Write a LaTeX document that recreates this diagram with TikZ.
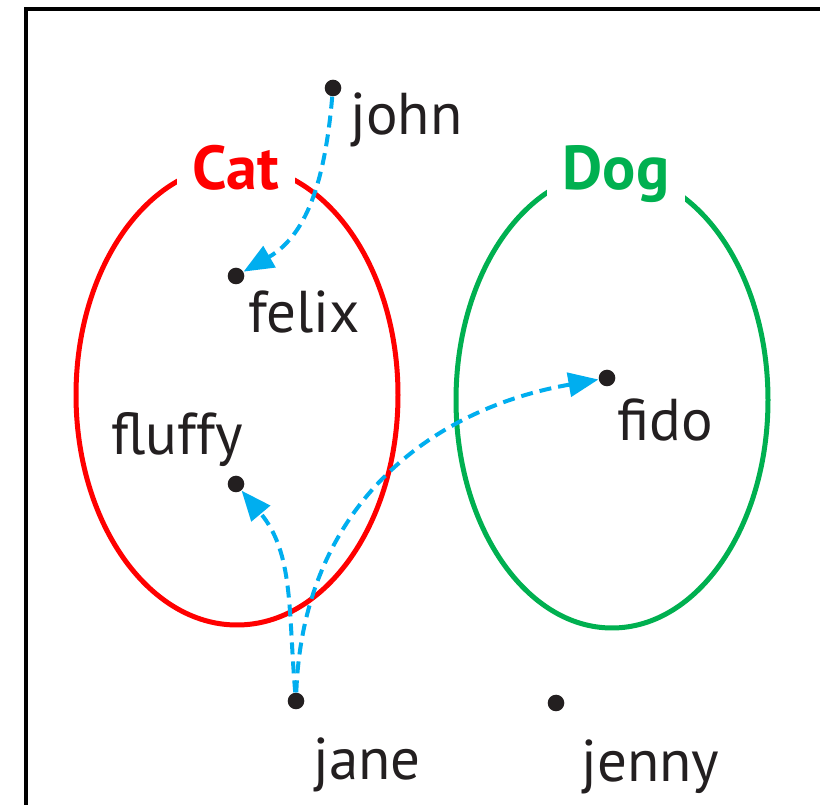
\documentclass[tikz,border=0pt]{standalone}
\usepackage{fontspec}
\setmainfont{PT Sans}
\usetikzlibrary{arrows.meta}
\definecolor{ink}{HTML}{231F20}
\definecolor{catred}{HTML}{FF0000}
\definecolor{doggreen}{HTML}{00B050}
\definecolor{arrblue}{HTML}{00AEEF}
\begin{document}
\begin{tikzpicture}[x=0.5pt,y=0.5pt,
  frame/.style={draw=black, line width=2.4pt},
  setline/.style={line width=2.5pt},
  dot/.style={circle, fill=ink, minimum size=8.3pt, inner sep=0pt},
  lbl/.style={font=\fontsize{29.5}{34}\selectfont, text=ink, inner sep=0pt, anchor=base west},
  setlabel/.style={font=\fontsize{31}{36}\selectfont\bfseries, fill=white, inner xsep=8pt, inner ysep=2pt, anchor=base},
  arr/.style={draw=arrblue, line width=2pt, dash pattern=on 6pt off 3.5pt, -{Triangle[length=15pt,width=12pt]}}
]
\useasboundingbox (0,0) rectangle (820,804);
\clip (0,0) rectangle (820,804);
\fill[white] (0,0) rectangle (820,804);
% frame
\draw[frame] (26,-20) -- (26,795) -- (840,795);
% sets
\draw[setline, catred] (237,409) ellipse [x radius=161, y radius=230];
\draw[setline, doggreen] (612,404) ellipse [x radius=156, y radius=228];
\node[setlabel, text=catred] (cat) at (236,614) {Cat};
\node[setlabel, text=doggreen] (dog) at (616,614) {Dog};
% elements
\node[dot] (john) at (333,716) {};
\node[dot] (felix) at (236,528) {};
\node[dot] (fluffy) at (236,320) {};
\node[dot] (fido) at (607,426) {};
\node[dot] (jane) at (296,103) {};
\node[dot] (jenny) at (556,101) {};
\node[lbl] (johnl) at (350,669) {john};
\node[lbl] (felixl) at (248,471) {felix};
\node[lbl] (fluffyl) at (111,349) {fluffy};
\node[lbl] (fidol) at (617,363) {fido};
\node[lbl] (janel) at (313,25) {jane};
\node[lbl] (jennyl) at (581,23) {jenny};
% mappings
\draw[arr] (john) to[out=-95, in=30] (felix);
\draw[arr] (jane) to[out=95, in=-50] (fluffy);
\draw[arr] (jane) to[out=88, in=190, looseness=1.05] (fido);
\end{tikzpicture}
\end{document}
